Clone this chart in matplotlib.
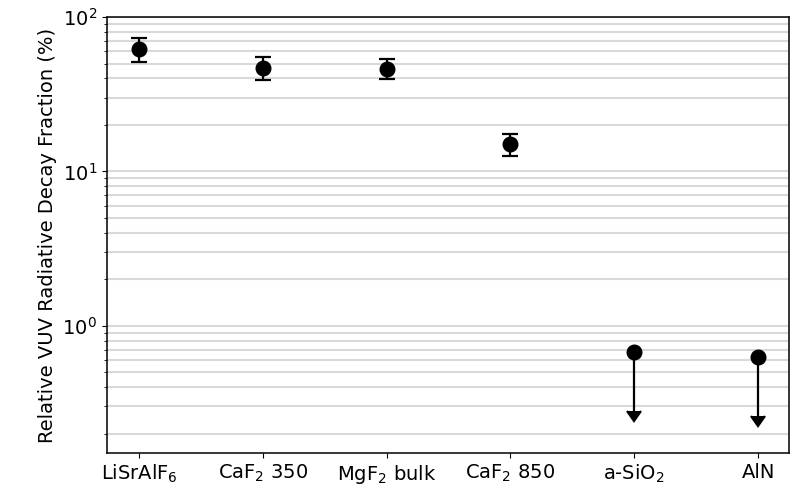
import matplotlib.pyplot as plt
import numpy as np

# データ
samples = ['LiSrAlF$_6$', 'CaF$_2$ 350', 'MgF$_2$ bulk', 'CaF$_2$ 850', 'a-SiO$_2$', 'AlN']
values = [62, 47, 46, 15, 0.68, 0.63]
err_lo = [10.5, 8.0, 6.5, 2.4, 0.40, 0.37]
err_hi = [11.0, 8.0, 7.5, 2.6, 0.0, 0.0]
is_limit = [False, False, False, False, True, True]

fig = plt.figure(figsize=(7.97, 4.88), dpi=100)
ax = fig.add_axes([0.134, 0.072, 0.856, 0.893])

x = np.arange(len(samples))
vals = np.array(values)
lo = np.array(err_lo)
hi = np.array(err_hi)
lim = np.array(is_limit)

# 測定値
m = ~lim
ax.errorbar(x[m], vals[m], yerr=[lo[m], hi[m]], fmt='o', color='k',
            markersize=10.5, elinewidth=1.6, capsize=5.5, capthick=1.6, zorder=3)
# 上限値（矢印）
_, caps, _ = ax.errorbar(x[lim], vals[lim], yerr=[lo[lim], hi[lim]], uplims=True,
                         fmt='o', color='k', markersize=10.5, elinewidth=1.6,
                         capsize=5, capthick=1.6, zorder=3)
for c in caps:
    if c.get_marker() == '_':
        c.set_visible(False)

ax.set_yscale('log')
ax.set_ylim(0.15, 100)
ax.set_xlim(-0.26, 5.25)
ax.set_xticks(x)
ax.set_xticklabels(samples)
ax.grid(True, which='both', axis='y', color='#d9d9d9', linewidth=1.5, zorder=0)
ax.set_axisbelow(True)
ax.tick_params(labelsize=14)
ax.set_ylabel('Relative VUV Radiative Decay Fraction (%)', fontsize=14)
for s in ax.spines.values():
    s.set_linewidth(1.1)

plt.savefig('out.png', dpi=100)
